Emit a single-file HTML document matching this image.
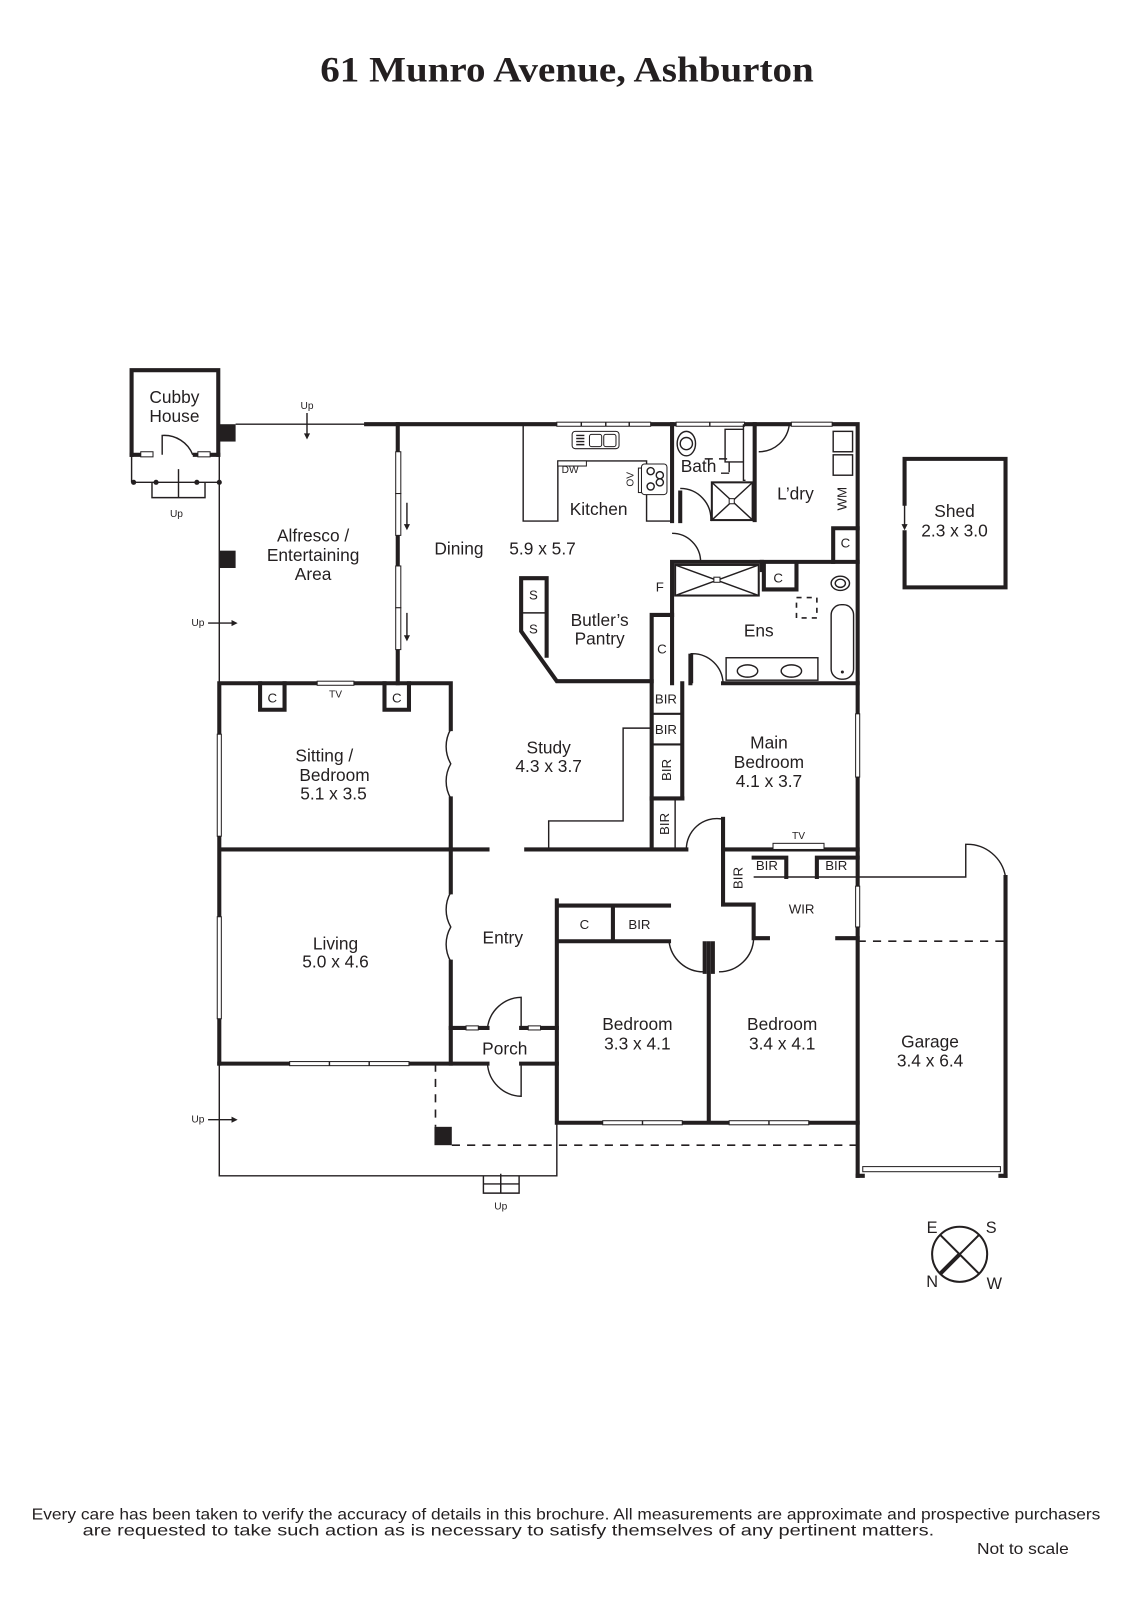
<!DOCTYPE html>
<html><head><meta charset="utf-8"><style>
html,body{margin:0;padding:0;background:#fff}
svg{display:block}
text{font-family:"Liberation Sans",sans-serif;fill:#231f20}
.t{stroke:#231f20;stroke-width:4;fill:none;stroke-linecap:square}
.n{stroke:#231f20;stroke-width:1.4;fill:none}
.m{stroke:#231f20;stroke-width:2;fill:none}
.d{stroke:#231f20;stroke-width:1.6;fill:none;stroke-dasharray:8 7}
.w{stroke:#231f20;stroke-width:1;fill:#fff}
.l{font-size:17px;text-anchor:middle}
.s{font-size:13px;text-anchor:middle}
.x{font-size:10px;text-anchor:middle}
</style></head><body>
<svg width="1131" height="1600" viewBox="-1 -3 1109 1569" xmlns="http://www.w3.org/2000/svg">
<text x="313" y="77" textLength="484" lengthAdjust="spacingAndGlyphs" style="font-family:'Liberation Serif',serif;font-weight:bold;font-size:35px">61 Munro Avenue, Ashburton</text>

<!-- Cubby -->
<path class="t" d="M128 443 V360 H213 V443"/>
<path class="t" d="M128 443 H145 M190 443 H213"/>
<rect class="w" x="137" y="440" width="12" height="5"/><rect class="w" x="193" y="440" width="12" height="5"/>
<path class="n" d="M158 443 V424 A30 30 0 0 1 188 443"/>
<path class="n" d="M128 443 V470 M214 443 V470 M128 470 H214 M148 470 V485 H200 V470 M174 485 V457"/>
<circle cx="130" cy="470" r="2.5" fill="#231f20"/><circle cx="152" cy="470" r="2.5" fill="#231f20"/><circle cx="192" cy="470" r="2.5" fill="#231f20"/><circle cx="214" cy="470" r="2.5" fill="#231f20"/>
<text class="x" x="172" y="504">Up</text>
<text class="l" x="170" y="392">Cubby</text><text class="l" x="170" y="411">House</text>

<!-- alfresco -->
<path class="n" d="M214 470 V667 M230 413 H358"/>
<rect x="214" y="413" width="16" height="17" fill="#231f20"/>
<rect x="214" y="537" width="16" height="17" fill="#231f20"/>
<text class="x" x="300" y="398">Up</text><path class="n" d="M300 402 V425"/><path d="M297 422 L300 428 L303 422Z" fill="#231f20"/>
<text class="x" x="193" y="611">Up</text><path class="n" d="M203 608 H229"/><path d="M226 605 L232 608 L226 611Z" fill="#231f20"/>
<text class="l" x="306" y="528">Alfresco /</text><text class="l" x="306" y="547">Entertaining</text><text class="l" x="306" y="566">Area</text>

<!-- outer top wall -->
<path class="t" d="M358 413 H840 V1150"/>
<rect class="w" x="545" y="411" width="92" height="4"/><path class="n" d="M569 411v4M593 411v4M616 411v4"/>
<rect class="w" x="662" y="411" width="67" height="4"/><path class="n" d="M695 411v4"/>
<rect class="w" x="775" y="411" width="40" height="4"/>
<!-- dining/alfresco wall -->
<path class="t" d="M389 413 V667"/>
<rect class="w" x="387" y="440" width="5" height="41"/><rect class="w" x="387" y="481" width="5" height="41"/>
<rect class="w" x="387" y="552" width="5" height="41"/><rect class="w" x="387" y="593" width="5" height="41"/>
<path class="n" d="M398 490 V513 M398 598 V622"/><path d="M395 511 L398 517 L401 511Z M395 620 L398 626 L401 620Z" fill="#231f20"/>
<text class="l" x="449" y="541">Dining</text><text class="l" x="531" y="541">5.9 x 5.7</text>

<!-- kitchen -->
<path class="n" d="M512 413 V508 H546 V449 H633 V508 H658"/>
<rect class="w" x="546" y="449" width="28" height="5"/>
<text class="x" x="558" y="461">DW</text>
<rect class="w" x="560" y="420" width="46" height="17" rx="3"/><path class="n" d="M564 424h8M564 427h8M564 430h8M564 433h8"/>
<rect class="w" x="577" y="423" width="12" height="12" rx="2"/><rect class="w" x="591" y="423" width="12" height="12" rx="2"/>
<rect class="w" x="628" y="452" width="25" height="30" rx="3"/>
<circle class="n" cx="637" cy="459" r="3.5"/><circle class="n" cx="646" cy="463" r="3.5"/><circle class="n" cx="637" cy="474" r="3.5"/><circle class="n" cx="646" cy="470" r="3.5"/>
<rect class="w" x="625" y="456" width="3" height="24"/>
<text class="x" x="620" y="467" transform="rotate(-90 620 467)">OV</text>
<text class="l" x="586" y="502">Kitchen</text>
<path class="t" d="M658 413 V508"/>
<path class="n" d="M658 520 A28 28 0 0 1 686 548"/>

<!-- bath -->
<circle class="n" cx="672" cy="432" r="6"/><ellipse class="n" cx="672" cy="432" rx="9" ry="12"/>
<path class="n" d="M728 413 V468 H730 M710 418 H728 V450 H710Z"/>
<path class="n" d="M690 447 H698 M704 447 H712 M714 450 V460 M706 461 H714"/>
<text class="l" x="684" y="460">Bath</text>
<path class="t" d="M666 480 V508"/>
<path class="n" d="M666 476 A30 30 0 0 1 696 508"/>
<rect class="m" x="697" y="470" width="40" height="37"/><path class="n" d="M697 470 L737 507 M737 470 L697 507"/><rect class="w" x="714" y="486" width="5" height="5"/>
<path class="t" d="M739 413 V507"/>
<path class="n" d="M743 440 A30 30 0 0 0 773 413"/>
<text class="l" x="779" y="487">L’dry</text>
<rect class="n" x="816" y="420" width="19" height="20"/><rect class="n" x="816" y="443" width="19" height="20"/>
<text class="s" x="829" y="486" transform="rotate(-90 829 486)">WM</text>
<path class="t" d="M816 515 V548 M816 515 H840"/><text class="s" x="828" y="534">C</text>

<!-- ens -->
<path class="t" d="M658 548 H840 M658 548 V667 M708 667 H840"/>
<path class="t" d="M746 548 V556"/>
<rect class="m" x="661" y="551" width="82" height="30"/><path class="n" d="M661 551 L743 581 M743 551 L661 581"/><rect class="w" x="699" y="563" width="6" height="5"/>
<path class="t" d="M748 551 V575 H780 V551"/><text class="s" x="762" y="568">C</text>
<path class="d" d="M780 583 H800 V603 H780Z" style="stroke-dasharray:5 5"/>
<ellipse class="n" cx="823" cy="569" rx="9" ry="7"/><ellipse class="n" cx="823" cy="569" rx="5" ry="4"/>
<rect class="n" x="814" y="590" width="22" height="73" rx="10"/><circle cx="825" cy="656" r="1.5" fill="#231f20"/>
<rect class="n" x="711" y="642" width="90" height="22"/><ellipse class="n" cx="732" cy="655" rx="10" ry="6"/><ellipse class="n" cx="775" cy="655" rx="10" ry="6"/>
<path class="n" d="M676 638 H678 A30 30 0 0 1 708 667 M678 638 V667"/><path class="t" d="M676 667 V640"/>
<text class="l" x="743" y="621">Ens</text>
<text class="s" x="646" y="577">F</text>
<path class="t" d="M638 600 H658 M638 600 V830"/><text class="s" x="648" y="638">C</text>

<!-- butler's pantry -->
<path class="t" d="M510 564 H535 V640 M510 564 V616 L545 665 H638"/>
<path class="n" d="M510 598 H535"/>
<text class="s" x="522" y="585">S</text><text class="s" x="522" y="618">S</text>
<text class="l" x="587" y="611">Butler’s</text><text class="l" x="587" y="629">Pantry</text>

<!-- BIRs left of main -->
<path class="t" d="M668 667 V780"/>
<path class="m" d="M638 697 H668 M638 727 H668"/>
<path class="t" d="M638 780 H668"/>
<path class="n" d="M661 780 V830"/>
<text class="s" x="652" y="687">BIR</text><text class="s" x="652" y="717">BIR</text>
<text class="s" x="657" y="752" transform="rotate(-90 657 752)">BIR</text>
<text class="s" x="655" y="805" transform="rotate(-90 655 805)">BIR</text>
<path class="n" d="M537 830 V802 H610 V711 H638"/>
<text class="l" x="537" y="736">Study</text><text class="l" x="537" y="754">4.3 x 3.7</text>
<text class="l" x="753" y="731">Main</text><text class="l" x="753" y="750">Bedroom</text><text class="l" x="753" y="769">4.1 x 3.7</text>
<rect class="w" x="838" y="697" width="4" height="62"/>
<path class="t" d="M515 830 H672 M708 830 H840"/>
<path class="t" d="M708 800 V830"/><path class="n" d="M672 830 A30 30 0 0 1 706 800"/>

<!-- WIR -->
<path class="t" d="M708 830 V884 H738 V917 H752 M820 917 H840"/>
<path class="t" d="M738 838 H770 V857 M800 857 V838 H840"/>
<path class="n" d="M738 857 H840"/>
<rect class="w" x="757" y="824" width="50" height="6"/>
<text class="x" x="782" y="820">TV</text>
<text class="s" x="751" y="850">BIR</text><text class="s" x="819" y="850">BIR</text>
<text class="s" x="727" y="858" transform="rotate(-90 727 858)">BIR</text>
<text class="s" x="785" y="893">WIR</text>
<rect class="w" x="838" y="866" width="4" height="40"/>

<!-- garage -->
<path class="n" d="M840 857 H946 V825 A38 38 0 0 1 985 857 V1150"/>
<path class="t" d="M985 857 V1150"/>
<path class="d" d="M840 920 H985"/>
<path class="t" d="M840 1150 H845 M980 1150 H985"/>
<rect class="w" x="845" y="1141" width="135" height="5"/>
<text class="l" x="911" y="1024">Garage</text><text class="l" x="911" y="1043">3.4 x 6.4</text>

<!-- shed -->
<path class="t" d="M886 491 V447 H985 V573 H886 V519"/>
<path class="n" d="M886 491 V515"/><path d="M883 511 L886 517 L889 511Z" fill="#231f20"/>
<text class="l" x="935" y="504">Shed</text><text class="l" x="935" y="523">2.3 x 3.0</text>

<!-- sitting -->
<path class="t" d="M214 667 H441 V712 M441 780 V830 M214 667 V1040 M214 830 H477"/>
<path class="t" d="M254 667 V693 H278 V667 M376 667 V693 H400 V667"/>
<rect class="w" x="310" y="665" width="36" height="4"/>
<text class="x" x="328" y="681">TV</text>
<text class="s" x="266" y="686">C</text><text class="s" x="388" y="686">C</text>
<path class="n" d="M441 712 A34 34 0 0 0 441 746 A34 34 0 0 0 441 780"/>
<rect class="w" x="212" y="717" width="4" height="100"/>
<text class="l" x="317" y="744">Sitting /</text><text class="l" x="327" y="763">Bedroom</text><text class="l" x="326" y="781">5.1 x 3.5</text>

<!-- living -->
<path class="t" d="M441 830 V872 M441 940 V1040 M214 1040 H441"/>
<path class="n" d="M441 872 A34 34 0 0 0 441 906 A34 34 0 0 0 441 940"/>
<rect class="w" x="212" y="896" width="4" height="100"/>
<rect class="w" x="283" y="1038" width="117" height="4"/><path class="n" d="M322 1038v4M361 1038v4"/>
<text class="l" x="328" y="928">Living</text><text class="l" x="328" y="946">5.0 x 4.6</text>
<text class="l" x="492" y="922">Entry</text>

<!-- porch -->
<path class="t" d="M441 1005 H477 M510 1005 H545 M441 1040 H477 M510 1040 H545"/>
<rect class="w" x="456" y="1003" width="12" height="4"/><rect class="w" x="517" y="1003" width="12" height="4"/>
<path class="n" d="M510 1005 V975 A34 34 0 0 0 477 1005 M477 1040 A34 34 0 0 0 510 1072 V1040"/>
<text class="l" x="494" y="1031">Porch</text>

<!-- bedrooms -->
<path class="t" d="M545 880 V1098 H840 M545 885 H655 M600 885 V920 M545 920 H655 M694 922 V1098"/>
<path class="t" d="M690 922 V950 M698 922 V950"/>
<path class="n" d="M655 920 A34 34 0 0 0 689 950 M738 917 A34 34 0 0 1 704 950"/>
<text class="s" x="572" y="908">C</text><text class="s" x="626" y="908">BIR</text>
<rect class="w" x="590" y="1096" width="78" height="4"/><path class="n" d="M629 1096v4"/>
<rect class="w" x="714" y="1096" width="78" height="4"/><path class="n" d="M753 1096v4"/>
<text class="l" x="624" y="1007">Bedroom</text><text class="l" x="624" y="1026">3.3 x 4.1</text>
<text class="l" x="766" y="1007">Bedroom</text><text class="l" x="766" y="1026">3.4 x 4.1</text>

<!-- front terrace -->
<path class="n" d="M214 1040 V1150 H545 V1098"/>
<path class="d" d="M426 1040 V1102 M442 1120 H840"/>
<rect x="425" y="1102" width="17" height="18" fill="#231f20"/>
<path class="n" d="M473 1150 V1167 H508 V1150 M473 1158 H508 M490 1150 V1167"/>
<path class="n" d="M490 1167 V1148"/>
<text class="x" x="490" y="1183">Up</text>
<text class="x" x="193" y="1098">Up</text><path class="n" d="M203 1095 H229"/><path d="M226 1092 L232 1095 L226 1098Z" fill="#231f20"/>

<!-- compass -->
<circle class="m" cx="940" cy="1227" r="27"/>
<path class="m" d="M921 1208 L959 1246 M959 1208 L921 1246"/>
<path d="M940 1227 L921 1246" stroke="#231f20" stroke-width="4"/>
<text x="913" y="1206" style="font-size:16px;text-anchor:middle">E</text>
<text x="971" y="1206" style="font-size:16px;text-anchor:middle">S</text>
<text x="913" y="1259" style="font-size:16px;text-anchor:middle">N</text>
<text x="974" y="1261" style="font-size:16px;text-anchor:middle">W</text>

<text x="30" y="1487" textLength="1048" lengthAdjust="spacingAndGlyphs" style="font-size:15px">Every care has been taken to verify the accuracy of details in this brochure.  All measurements are approximate and prospective purchasers</text>
<text x="80" y="1503" textLength="835" lengthAdjust="spacingAndGlyphs" style="font-size:15px">are requested to take such action as is necessary to satisfy themselves of any pertinent matters.</text>
<text x="957" y="1521" textLength="90" lengthAdjust="spacingAndGlyphs" style="font-size:15px">Not to scale</text>
</svg>
</body></html>
